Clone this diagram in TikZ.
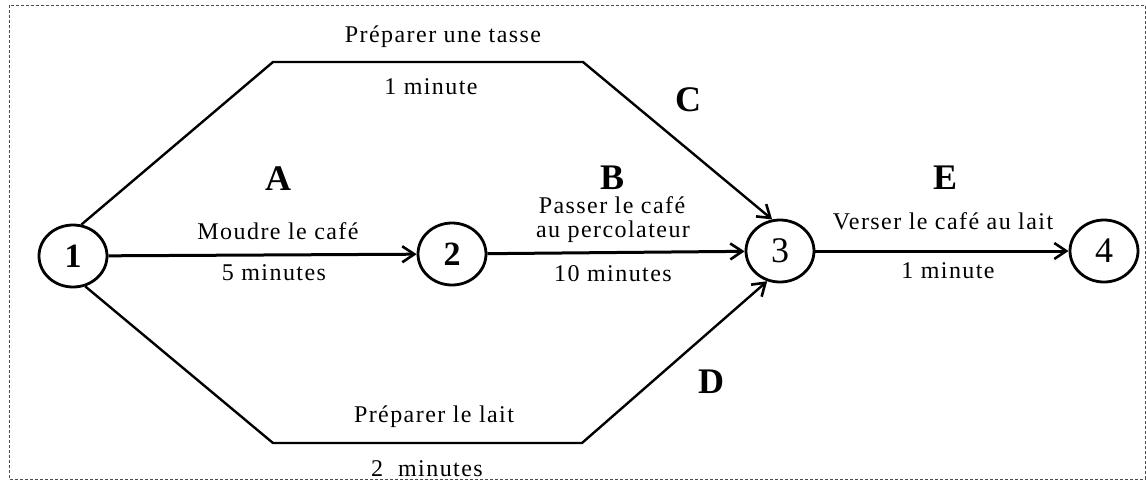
\documentclass[tikz,border=0pt]{standalone}
\usepackage{fontspec}
\setmainfont{Liberation Serif}
\usetikzlibrary{arrows.meta,shapes.geometric}
\newfontfamily\lblfont[LetterSpace=6]{Liberation Serif}
\begin{document}
\begin{tikzpicture}[x=1pt,y=-1pt,
  event/.style={ellipse,draw,line width=2.8pt,minimum width=68pt,minimum height=62pt,inner sep=0pt,
    font=\fontsize{34}{36}\selectfont\bfseries},
  light/.style={font=\fontsize{36}{38}\selectfont},
  task/.style={line width=3pt,-{Straight Barb[length=12pt,width=16pt,line width=2.6pt]}},
  slant/.style={line width=2.4pt},
  lbl/.style={inner sep=0pt,font=\fontsize{24}{26}\selectfont\lblfont},
  letter/.style={inner sep=0pt,font=\fontsize{36}{38}\selectfont\bfseries}]
\useasboundingbox (0,0) rectangle (1146,480);
\draw[line width=1pt,dash pattern=on 3pt off 2pt,gray!60!black] (9,5) rectangle (1145,479);

% events
\node[event] (n1) at (73,256) {1};
\node[event] (n2) at (452,254) {2};
\node[event,light] (n3) at (780,251) {3};
\node[event,light] (n4) at (1104,251) {4};

% bends of the parallel tasks
\coordinate (c1) at (273,62);
\coordinate (c2) at (583,62);
\coordinate (d1) at (273,443);
\coordinate (d2) at (582,443);

% tasks
\draw[task] (n1) -- (n2);
\draw[task] (n2) -- (n3);
\draw[task] (n3) -- (n4);
\draw[task,slant] (n1.75) -- (c1) -- (c2) -- (n3.104);
\draw[task,slant] (n1.292) -- (d1) -- (d2) -- (n3.247);

% task letters
\node[letter] (lA) at (278,179) {A};
\node[letter] (lB) at (612,178) {B};
\node[letter] (lC) at (688,100) {C};
\node[letter] (lD) at (711,382) {D};
\node[letter] (lE) at (945,178) {E};

% task descriptions and durations
\node[lbl] (tC) at (443,37) {Préparer une tasse};
\node[lbl] (dC) at (431,87) {1 minute};
\node[lbl] (tA) at (278,231) {Moudre le café};
\node[lbl] (dA) at (274,273) {5 minutes};
\node[lbl] (tB1) at (612,205) {Passer le café};
\node[lbl] (tB2) at (613,232) {au percolateur};
\node[lbl] (dB) at (613,274) {10 minutes};
\node[lbl] (tE) at (943,221) {Verser le café au lait};
\node[lbl] (dE) at (948,271) {1 minute};
\node[lbl] (tD) at (434,417) {Préparer le lait};
\node[lbl] (dD) at (427,469) {2~~minutes};
\end{tikzpicture}
\end{document}
